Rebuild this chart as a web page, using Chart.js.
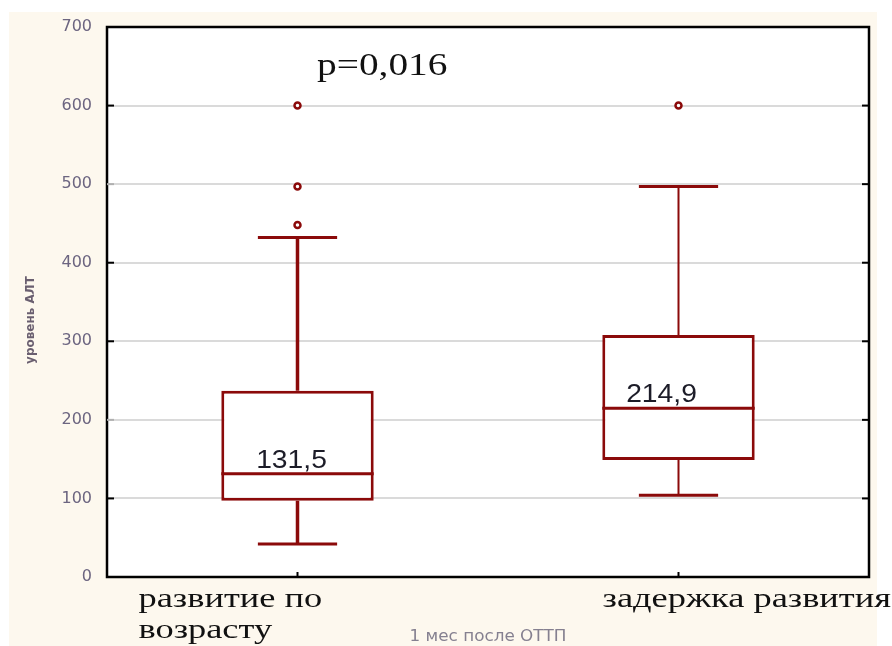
<!DOCTYPE html>
<html>
<head>
<meta charset="utf-8">
<script src="https://cdn.jsdelivr.net/npm/chart.js@4/dist/chart.umd.min.js"></script>
<style>
  html, body { margin: 0; padding: 0; background: #ffffff; }
  #wrap { width: 892px; height: 646px; }
</style>
</head>
<body>
<div id="wrap"><canvas id="chart" width="892" height="646"></canvas></div>
<script>
const groups = ["развитие по возрасту", "задержка развития"];
const groupLines = [["развитие по", "возрасту"], ["задержка развития"]];
const lowerWhisker = [42, 104];
const q1 = [97, 149];
const median = [131.5, 214.9];
const q3 = [237, 308];
const upperWhisker = [432, 497];
const outliers = [[448, 497, 600], [600]];
const medianLabels = ["131,5", "214,9"];
const yTicks = [0, 100, 200, 300, 400, 500, 600, 700];
const pValue = "p=0,016";
const yTitle = "уровень АЛТ";
const xTitle = "1 мес после ОТТП";

const dark = "#8b0a0a";

const outlierPoints = [];
outliers.forEach((list, i) => list.forEach((v) => outlierPoints.push({ x: groups[i], y: v })));

// stretched text, like the squashed picture
function wideText(ctx, text, x, y, sx, align) {
  ctx.save();
  ctx.translate(x, y);
  ctx.scale(sx, 1);
  ctx.textAlign = align || "left";
  ctx.fillText(text, 0, 0);
  ctx.restore();
}

const backdrop = {
  id: "backdrop",
  beforeDraw(chart) {
    const { ctx, chartArea: a } = chart;
    ctx.save();
    ctx.fillStyle = "#ffffff";
    ctx.fillRect(0, 0, chart.width, chart.height);
    ctx.fillStyle = "#fdf8ee";
    ctx.fillRect(9, 12, 868, 634);
    ctx.fillStyle = "#ffffff";
    ctx.fillRect(a.left, a.top, a.right - a.left, a.bottom - a.top);
    ctx.restore();
  }
};

const boxParts = {
  id: "boxParts",
  afterDatasetsDraw(chart) {
    const { ctx, scales: { y } } = chart;
    const meta = chart.getDatasetMeta(0);
    ctx.save();
    ctx.strokeStyle = dark;
    ctx.lineCap = "butt";
    meta.data.forEach((bar, i) => {
      const cx = bar.x;
      const half = bar.width / 2;
      const cap = bar.width * 0.26;
      ctx.lineWidth = i === 0 ? 3.5 : 2;
      ctx.beginPath();
      ctx.moveTo(cx, y.getPixelForValue(q3[i]));
      ctx.lineTo(cx, y.getPixelForValue(upperWhisker[i]));
      ctx.moveTo(cx, y.getPixelForValue(q1[i]));
      ctx.lineTo(cx, y.getPixelForValue(lowerWhisker[i]));
      ctx.stroke();
      ctx.lineWidth = 3;
      ctx.beginPath();
      [upperWhisker[i], lowerWhisker[i]].forEach((v) => {
        const py = y.getPixelForValue(v);
        ctx.moveTo(cx - cap, py);
        ctx.lineTo(cx + cap, py);
      });
      const my = y.getPixelForValue(median[i]);
      ctx.moveTo(cx - half, my);
      ctx.lineTo(cx + half, my);
      ctx.stroke();
    });
    ctx.restore();
  }
};

const texts = {
  id: "texts",
  afterDraw(chart) {
    const { ctx, chartArea: a, scales: { x, y } } = chart;
    ctx.save();
    ctx.strokeStyle = "#000000";
    ctx.lineWidth = 2.5;
    ctx.strokeRect(a.left, a.top, a.right - a.left, a.bottom - a.top);

    // small inner tick marks on the frame
    ctx.lineWidth = 2;
    yTicks.slice(1, -1).forEach((v) => {
      const py = y.getPixelForValue(v);
      ctx.strokeStyle = "#000000";
      ctx.beginPath();
      ctx.moveTo(a.right - 7, py);
      ctx.lineTo(a.right, py);
      ctx.stroke();
      ctx.strokeStyle = v % 300 === 200 ? "#b0b0b0" : "#000000";
      ctx.beginPath();
      ctx.moveTo(a.left, py);
      ctx.lineTo(a.left + 7, py);
      ctx.stroke();
    });
    ctx.strokeStyle = "#000000";
    groups.forEach((g, i) => {
      const px = x.getPixelForValue(i);
      ctx.beginPath();
      ctx.moveTo(px, a.bottom);
      ctx.lineTo(px, a.bottom - 5);
      ctx.stroke();
    });

    ctx.fillStyle = "#1c1c28";
    ctx.font = '25px "Liberation Sans", Arial, sans-serif';
    const medShift = [-6, -17];
    medianLabels.forEach((t, i) => {
      wideText(ctx, t, x.getPixelForValue(i) + medShift[i], y.getPixelForValue(median[i]) - 6, 1.13, "center");
    });

    ctx.fillStyle = "#111111";
    ctx.font = '31px "Liberation Serif", "Times New Roman", serif';
    wideText(ctx, pValue, 317, 75, 1.27, "left");

    ctx.font = '28px "Liberation Serif", "Times New Roman", serif';
    const labelShift = [-159, -76];
    groupLines.forEach((lines, i) => {
      lines.forEach((line, j) => {
        wideText(ctx, line, x.getPixelForValue(i) + labelShift[i], 607 + j * 31, 1.3, "left");
      });
    });

    ctx.fillStyle = "#858090";
    ctx.font = '16px "DejaVu Sans", sans-serif';
    ctx.textBaseline = "middle";
    wideText(ctx, xTitle, (a.left + a.right) / 2, 637, 1.05, "center");

    ctx.fillStyle = "#6a5f70";
    ctx.font = 'bold 12px "DejaVu Sans", sans-serif';
    ctx.translate(31, (a.top + a.bottom) / 2 + 18);
    ctx.rotate(-Math.PI / 2);
    ctx.textAlign = "center";
    ctx.fillText(yTitle, 0, 0);
    ctx.restore();
  }
};

new Chart(document.getElementById("chart"), {
  data: {
    labels: groups,
    datasets: [
      {
        type: "bar",
        data: groups.map((g, i) => [q1[i], q3[i]]),
        backgroundColor: "#ffffff",
        borderColor: dark,
        borderWidth: 3,
        borderSkipped: false,
        barPercentage: 0.4,
        categoryPercentage: 1
      },
      {
        type: "line",
        data: outlierPoints,
        showLine: false,
        pointStyle: "circle",
        pointRadius: 3,
        pointBorderWidth: 2.5,
        pointBorderColor: dark,
        pointBackgroundColor: "#ffffff"
      }
    ]
  },
  options: {
    responsive: false,
    animation: false,
    layout: { padding: { top: 27, right: 23, left: 0, bottom: 0 } },
    plugins: { legend: { display: false }, tooltip: { enabled: false } },
    scales: {
      x: {
        type: "category",
        offset: true,
        grid: { display: false },
        border: { display: false },
        ticks: { display: false },
        afterFit: (s) => { s.height = 69; }
      },
      y: {
        min: 0,
        max: 700,
        afterBuildTicks: (s) => { s.ticks = yTicks.map((v) => ({ value: v })); },
        grid: { color: "#dadada", lineWidth: 2, drawTicks: false },
        border: { display: false },
        ticks: {
          padding: 15,
          color: "#6c6580",
          font: { family: '"DejaVu Sans", sans-serif', size: 16 }
        },
        afterFit: (s) => { s.width = 107; }
      }
    }
  },
  plugins: [backdrop, boxParts, texts]
});
</script>
</body>
</html>
